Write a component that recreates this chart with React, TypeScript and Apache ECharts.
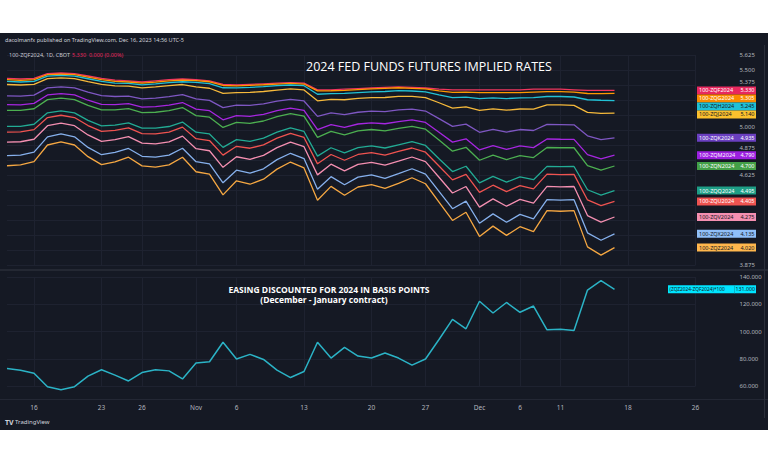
import React, { useEffect, useRef } from "react";
import * as echarts from "echarts";

const categories = [
  "2023-10-12","2023-10-13","2023-10-16","2023-10-17","2023-10-18","2023-10-19","2023-10-20",
  "2023-10-23","2023-10-24","2023-10-25","2023-10-26","2023-10-27","2023-10-30","2023-10-31",
  "2023-11-01","2023-11-02","2023-11-03","2023-11-06","2023-11-07","2023-11-08","2023-11-09",
  "2023-11-10","2023-11-13","2023-11-14","2023-11-15","2023-11-16","2023-11-17","2023-11-20",
  "2023-11-21","2023-11-22","2023-11-24","2023-11-27","2023-11-28","2023-11-29","2023-11-30",
  "2023-12-01","2023-12-04","2023-12-05","2023-12-06","2023-12-07","2023-12-08","2023-12-11",
  "2023-12-12","2023-12-13","2023-12-14","2023-12-15","2023-12-18","2023-12-19","2023-12-20",
  "2023-12-21","2023-12-22","2023-12-26"
];

const xTickLabels: Record<string, string> = {
  "2023-10-16": "16", "2023-10-23": "23", "2023-10-26": "26", "2023-11-01": "Nov",
  "2023-11-06": "6", "2023-11-13": "13", "2023-11-20": "20", "2023-11-27": "27",
  "2023-12-01": "Dec", "2023-12-06": "6", "2023-12-11": "11", "2023-12-18": "18", "2023-12-26": "26"
};

const zqf = [5.430,5.425,5.430,5.470,5.475,5.470,5.450,5.430,5.415,5.410,5.400,5.410,5.420,5.425,5.420,5.410,5.380,5.375,5.380,5.385,5.390,5.395,5.390,5.335,5.335,5.340,5.345,5.350,5.355,5.360,5.355,5.350,5.340,5.335,5.335,5.335,5.335,5.335,5.335,5.340,5.340,5.340,5.335,5.330,5.330,5.330];
const zqg = [5.419,5.414,5.420,5.461,5.466,5.461,5.440,5.419,5.405,5.400,5.390,5.399,5.409,5.415,5.412,5.402,5.371,5.367,5.372,5.377,5.383,5.388,5.383,5.326,5.327,5.331,5.337,5.342,5.347,5.352,5.347,5.342,5.326,5.313,5.315,5.311,5.312,5.311,5.312,5.316,5.320,5.320,5.315,5.304,5.303,5.305];
const zqh = [5.405,5.400,5.406,5.449,5.455,5.449,5.427,5.405,5.391,5.388,5.376,5.385,5.395,5.402,5.397,5.387,5.352,5.351,5.355,5.361,5.369,5.375,5.369,5.298,5.303,5.305,5.312,5.318,5.321,5.328,5.325,5.318,5.293,5.270,5.274,5.262,5.267,5.262,5.267,5.269,5.279,5.279,5.275,5.252,5.248,5.245];
const zqj = [5.379,5.375,5.381,5.428,5.435,5.428,5.403,5.380,5.367,5.365,5.351,5.360,5.370,5.379,5.359,5.348,5.306,5.311,5.313,5.321,5.333,5.342,5.334,5.243,5.255,5.252,5.263,5.270,5.271,5.280,5.280,5.270,5.227,5.183,5.192,5.164,5.176,5.165,5.175,5.174,5.210,5.210,5.205,5.147,5.138,5.140];
const zqk = [5.284,5.282,5.291,5.351,5.360,5.351,5.316,5.286,5.279,5.283,5.260,5.266,5.278,5.295,5.259,5.247,5.187,5.207,5.205,5.218,5.240,5.256,5.242,5.114,5.142,5.128,5.148,5.157,5.153,5.167,5.174,5.158,5.095,5.030,5.049,4.981,5.006,4.983,5.004,4.996,5.047,5.045,5.043,4.952,4.920,4.935];
const zqm = [5.212,5.210,5.222,5.292,5.303,5.292,5.248,5.214,5.211,5.219,5.190,5.194,5.207,5.229,5.174,5.161,5.085,5.120,5.114,5.131,5.161,5.183,5.164,5.003,5.045,5.022,5.050,5.060,5.052,5.070,5.084,5.063,4.982,4.899,4.927,4.834,4.869,4.838,4.867,4.853,4.925,4.923,4.922,4.795,4.760,4.790];
const zqn = [5.164,5.164,5.177,5.253,5.266,5.253,5.205,5.168,5.167,5.178,5.145,5.148,5.161,5.187,5.120,5.107,5.021,5.064,5.056,5.075,5.111,5.137,5.115,4.939,4.989,4.960,4.992,5.004,4.993,5.014,5.031,5.007,4.917,4.823,4.856,4.748,4.790,4.753,4.787,4.770,4.854,4.852,4.852,4.704,4.665,4.700];
const zqq = [5.030,5.031,5.048,5.143,5.160,5.143,5.080,5.035,5.041,5.060,5.016,5.015,5.029,5.066,4.982,4.967,4.855,4.920,4.906,4.932,4.982,5.018,4.988,4.782,4.852,4.810,4.853,4.867,4.850,4.877,4.903,4.871,4.761,4.654,4.698,4.559,4.614,4.565,4.610,4.586,4.697,4.694,4.696,4.502,4.458,4.495];
const zqu = [4.982,4.985,5.003,5.104,5.123,5.104,5.037,4.988,4.997,5.018,4.970,4.968,4.983,5.024,4.928,4.912,4.791,4.864,4.848,4.876,4.932,4.971,4.938,4.718,4.796,4.748,4.796,4.811,4.791,4.821,4.850,4.815,4.700,4.584,4.631,4.480,4.540,4.486,4.536,4.509,4.632,4.628,4.630,4.417,4.369,4.405];
const zqv = [4.899,4.902,4.923,5.036,5.057,5.036,4.959,4.905,4.919,4.945,4.890,4.885,4.901,4.949,4.844,4.827,4.689,4.777,4.756,4.789,4.853,4.899,4.861,4.626,4.715,4.659,4.714,4.730,4.707,4.740,4.775,4.736,4.606,4.475,4.529,4.357,4.426,4.365,4.422,4.390,4.530,4.526,4.529,4.287,4.232,4.275];
const zqx = [4.786,4.791,4.816,4.943,4.968,4.943,4.855,4.794,4.813,4.846,4.781,4.774,4.791,4.848,4.736,4.718,4.560,4.665,4.640,4.677,4.753,4.806,4.762,4.506,4.611,4.544,4.607,4.626,4.597,4.636,4.677,4.632,4.488,4.344,4.407,4.223,4.301,4.231,4.297,4.260,4.419,4.415,4.419,4.143,4.081,4.135];
const zqz = [4.702,4.709,4.736,4.875,4.902,4.875,4.778,4.711,4.735,4.773,4.701,4.691,4.709,4.773,4.652,4.632,4.459,4.577,4.548,4.590,4.674,4.733,4.684,4.414,4.530,4.456,4.525,4.545,4.513,4.555,4.602,4.552,4.399,4.246,4.315,4.113,4.199,4.122,4.194,4.153,4.328,4.323,4.328,4.026,3.957,4.020];

const easing = [72.8,71.6,69.4,59.5,57.3,59.5,67.2,71.9,68.0,63.7,69.9,71.9,71.1,65.2,76.8,77.8,92.1,79.8,83.2,79.5,71.6,66.2,70.6,92.1,80.5,88.4,82.0,80.5,84.2,80.5,75.3,79.8,94.1,108.9,102.0,122.2,113.6,121.3,114.1,118.7,101.2,101.7,100.7,130.4,137.3,131.0];

const contractNames = ["100-ZQF2024","100-ZQG2024","100-ZQH2024","100-ZQJ2024","100-ZQK2024","100-ZQM2024","100-ZQN2024","100-ZQQ2024","100-ZQU2024","100-ZQV2024","100-ZQX2024","100-ZQZ2024"];
const contractSeries = [zqf, zqg, zqh, zqj, zqk, zqm, zqn, zqq, zqu, zqv, zqx, zqz];
const lineColors = ["#f0365f","#ff9800","#22c2d6","#f6b93b","#7e57c2","#a626e0","#4caf50","#22ab94","#ef5350","#f48fb1","#86b0ec","#f5a742"];
const labelBg = ["#e8285f","#fb8c00","#1fc0d6","#fbc02d","#6a3fc0","#9c1fe0","#43a047","#1e9e86","#ef5350","#f48fb1","#90bff9","#ffb74d"];
const labelTextColor = ["#ffffff","#ffffff","#131722","#131722","#ffffff","#ffffff","#ffffff","#ffffff","#ffffff","#131722","#131722","#131722"];

const easingName = "(ZQZ2024-ZQF2024)*100";

export default function App() {
  const ref = useRef<HTMLDivElement>(null);
  useEffect(() => {
    const el = ref.current!;
    const chart = echarts.init(el, null, { renderer: "svg" });
    const font = "Noto Sans";
    const gridColor = "#1e2230";
    const axisText = "#b2b5be";

    const series: any[] = contractSeries.map((d, i) => ({
      type: "line",
      name: contractNames[i],
      xAxisIndex: 0,
      yAxisIndex: 0,
      data: d,
      symbol: "none",
      showSymbol: false,
      lineStyle: { color: lineColors[i], width: 1.3 },
      itemStyle: { color: lineColors[i] },
      z: 3,
    }));
    series.push({
      type: "line",
      name: easingName,
      xAxisIndex: 1,
      yAxisIndex: 1,
      data: easing,
      symbol: "none",
      showSymbol: false,
      clip: false,
      lineStyle: { color: "#2bb3c6", width: 1.5 },
      itemStyle: { color: "#2bb3c6" },
      z: 3,
    });

    const splitInterval = (_i: number, v: string) => !!xTickLabels[v];
    let hiddenTicks: number[] = [];
    let upTicks: number[] = [];
    let downTicks: number[] = [];
    const has = (arr: number[], v: number) => arr.some((h) => Math.abs(h - v) < 1e-6);

    chart.setOption({
      animation: false,
      backgroundColor: "#151924",
      grid: [
        { left: 7, right: 72.5, top: 55, height: 210 },
        { left: 7, right: 72.5, top: 277, height: 109 },
      ],
      xAxis: [
        {
          type: "category", gridIndex: 0, data: categories, boundaryGap: false,
          axisLine: { show: false }, axisTick: { show: false }, axisLabel: { show: false },
          splitLine: { show: true, interval: splitInterval, lineStyle: { color: gridColor, width: 1 } },
        },
        {
          type: "category", gridIndex: 1, data: categories, boundaryGap: false,
          axisLine: { show: false }, axisTick: { show: false },
          axisLabel: {
            show: true, interval: splitInterval, formatter: (v: string) => xTickLabels[v] || "",
            color: axisText, fontSize: 6.5, fontFamily: font, margin: 18,
          },
          splitLine: { show: true, interval: splitInterval, lineStyle: { color: gridColor, width: 1 } },
        },
      ],
      yAxis: [
        {
          type: "value", gridIndex: 0, position: "right", min: 3.875, max: 5.625, interval: 0.125,
          axisLine: { show: false }, axisTick: { show: false },
          axisLabel: {
            formatter: (v: number) => {
              if (has(hiddenTicks, v)) return "";
              if (has(upTicks, v)) return "{up|" + v.toFixed(3) + "}";
              if (has(downTicks, v)) return "{down|" + v.toFixed(3) + "}";
              return v.toFixed(3);
            },
            rich: {
              up: { color: axisText, fontSize: 6, fontFamily: font, padding: [0, 0, 6, 0] },
              down: { color: axisText, fontSize: 6, fontFamily: font, padding: [5, 0, 0, 0] },
            },
            color: axisText, fontSize: 6, fontFamily: font, margin: 44,
          },
          splitLine: { show: true, lineStyle: { color: gridColor, width: 1 } },
        },
        {
          type: "value", gridIndex: 1, position: "right", min: 60, max: 140, interval: 20,
          axisLine: { show: false }, axisTick: { show: false },
          axisLabel: { formatter: (v: number) => v.toFixed(3), color: axisText, fontSize: 6, fontFamily: font, margin: 44 },
          splitLine: { show: true, lineStyle: { color: gridColor, width: 1 } },
        },
      ],
      series,
    });

    const last = zqf.length - 1;
    const boxes = contractSeries.map((d, i) => ({
      i,
      v: d[last],
      y: chart.convertToPixel({ yAxisIndex: 0 }, d[last]) as number,
    }));
    let prev = -Infinity;
    boxes.forEach((b) => {
      if (b.y < prev + 8) b.y = prev + 8;
      prev = b.y;
    });

    // price-scale ticks covered by value boxes are hidden, nearly covered ones nudged away
    const tickVals: number[] = [];
    for (let k = 0; k <= 14; k++) tickVals.push(3.875 + k * 0.125);
    const nearest = (t: number) => {
      const ty = chart.convertToPixel({ yAxisIndex: 0 }, t) as number;
      let best = Infinity;
      let dir = 0;
      boxes.forEach((b) => {
        const d = Math.abs(b.y - ty);
        if (d < best) { best = d; dir = b.y > ty ? -1 : 1; }
      });
      return { d: best, dir };
    };
    hiddenTicks = tickVals.filter((t) => nearest(t).d < 5);
    upTicks = tickVals.filter((t) => { const n = nearest(t); return n.d >= 5 && n.d < 8.5 && n.dir < 0; });
    downTicks = tickVals.filter((t) => { const n = nearest(t); return n.d >= 5 && n.d < 8.5 && n.dir > 0; });
    chart.setOption({ yAxis: [{}, {}] });

    const elements: any[] = [];
    elements.push({ type: "line", shape: { x1: 0, y1: 270, x2: 768, y2: 270 }, style: { stroke: "#2a2e39", lineWidth: 1.5 }, z: 50 });
    elements.push({ type: "line", shape: { x1: 0, y1: 399.5, x2: 768, y2: 399.5 }, style: { stroke: "#232734", lineWidth: 1 }, z: 50 });
    elements.push({ type: "line", shape: { x1: 764.5, y1: 45, x2: 764.5, y2: 418 }, style: { stroke: "#2a2e39", lineWidth: 1 }, z: 50 });

    boxes.forEach((b) => {
      elements.push({ type: "rect", shape: { x: 697, y: b.y - 4, width: 59, height: 8 }, style: { fill: labelBg[b.i] }, z: 60 });
      elements.push({ type: "text", x: 699, y: b.y, style: { text: contractNames[b.i], fill: labelTextColor[b.i], fontSize: 5.5, fontFamily: font, verticalAlign: "middle", align: "left" }, z: 61 });
      elements.push({ type: "text", x: 754.5, y: b.y, style: { text: b.v.toFixed(3), fill: labelTextColor[b.i], fontSize: 5.5, fontFamily: font, verticalAlign: "middle", align: "right" }, z: 61 });
    });

    const ey = chart.convertToPixel({ yAxisIndex: 1 }, easing[last]) as number;
    elements.push({ type: "rect", shape: { x: 668, y: ey - 4, width: 88, height: 8 }, style: { fill: "#00e5ff" }, z: 60 });
    elements.push({ type: "line", shape: { x1: 734.5, y1: ey - 4, x2: 734.5, y2: ey + 4 }, style: { stroke: "#0aa9bf", lineWidth: 0.8 }, z: 61 });
    elements.push({ type: "text", x: 669.5, y: ey, style: { text: easingName, fill: "#131722", fontSize: 4.8, fontFamily: font, verticalAlign: "middle", align: "left" }, z: 61 });
    elements.push({ type: "text", x: 755, y: ey, style: { text: easing[last].toFixed(3), fill: "#131722", fontSize: 5.3, fontFamily: font, verticalAlign: "middle", align: "right" }, z: 61 });

    elements.push({ type: "text", x: 5, y: 39.5, style: { text: "dacolmanfx published on TradingView.com, Dec 16, 2023 14:56 UTC-5", fill: "#d1d4dc", fontSize: 5.5, fontFamily: font, verticalAlign: "middle" }, z: 70 });
    elements.push({ type: "text", x: 9, y: 54.5, style: { text: "100-ZQF2024, 1D, CBOT", fill: "#c8cad2", fontSize: 5.5, fontFamily: font, verticalAlign: "middle" }, z: 70 });
    elements.push({ type: "text", x: 72, y: 54.5, style: { text: "5.330  0.000 (0.00%)", fill: "#e8285f", fontSize: 5.5, fontFamily: font, verticalAlign: "middle" }, z: 70 });

    elements.push({ type: "text", x: 306, y: 66, style: { text: "2024 FED FUNDS FUTURES IMPLIED RATES", fill: "#ffffff", fontSize: 12.5, fontFamily: "Open Sans", verticalAlign: "middle" }, z: 70 });
    elements.push({ type: "text", x: 329, y: 289, style: { text: "EASING DISCOUNTED FOR 2024 IN BASIS POINTS", fill: "#ffffff", fontSize: 8.5, lineHeight: 9, fontWeight: "bold", fontFamily: "Open Sans", verticalAlign: "middle", align: "center" }, z: 70 });
    elements.push({ type: "text", x: 324, y: 299.5, style: { text: "(December - January contract)", fill: "#ffffff", fontSize: 8.5, lineHeight: 9, fontWeight: "bold", fontFamily: "Open Sans", verticalAlign: "middle", align: "center" }, z: 70 });

    elements.push({ type: "text", x: 5, y: 422, style: { text: "TV", fill: "#d1d4dc", fontSize: 7, fontWeight: "bold", fontFamily: font, verticalAlign: "middle" }, z: 70 });
    elements.push({ type: "text", x: 15, y: 422, style: { text: "TradingView", fill: "#d1d4dc", fontSize: 6, fontFamily: font, verticalAlign: "middle" }, z: 70 });

    elements.push({ type: "rect", shape: { x: 0, y: 0, width: 768, height: 33 }, style: { fill: "#ffffff" }, z: 200 });
    elements.push({ type: "rect", shape: { x: 0, y: 430, width: 768, height: 33 }, style: { fill: "#ffffff" }, z: 200 });

    chart.setOption({ graphic: { elements } });

    return () => chart.dispose();
  }, []);
  return (
    <div style={{ position: "fixed", left: 0, top: 0, width: 768, height: 463 }}>
      <div ref={ref} style={{ width: 768, height: 463 }} />
    </div>
  );
}
